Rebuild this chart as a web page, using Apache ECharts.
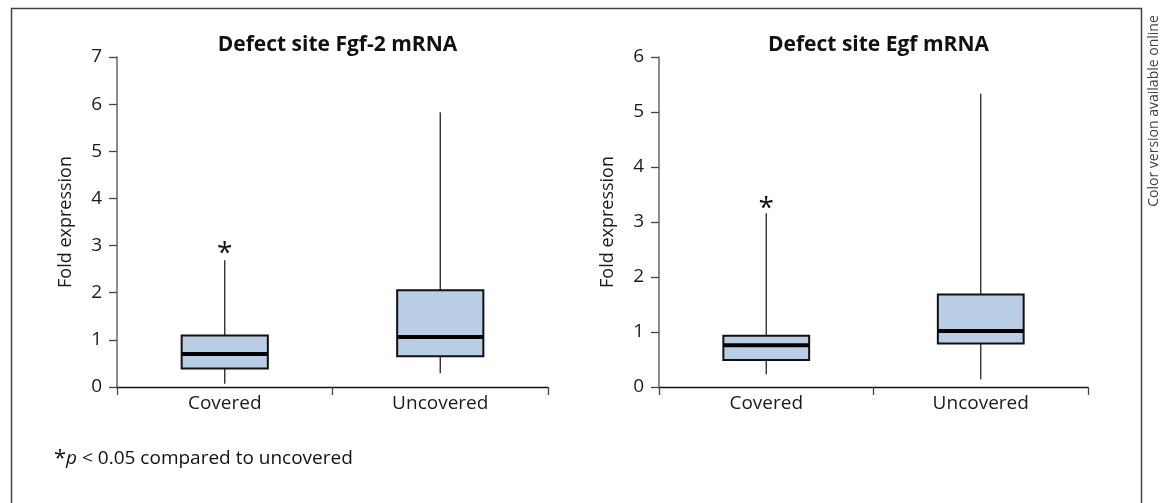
<!DOCTYPE html>
<html>
<head>
<meta charset="utf-8">
<script src="https://cdn.jsdelivr.net/npm/echarts@6/dist/echarts.min.js"></script>
<style>
html,body{margin:0;padding:0;background:#fff;}
#main{width:1168px;height:503px;}
</style>
</head>
<body>
<div id="main"></div>
<script>
// ---- Data ----
const categories = ['Covered', 'Uncovered'];

// Defect site Fgf-2 mRNA
const fgfMin    = [0.07, 0.29];
const fgfQ1     = [0.39, 0.65];
const fgfMedian = [0.70, 1.06];
const fgfQ3     = [1.09, 2.05];
const fgfMax    = [2.69, 5.83];
const fgfStar   = [2.99, null];

// Defect site Egf mRNA
const egfMin    = [0.23, 0.14];
const egfQ1     = [0.49, 0.79];
const egfMedian = [0.76, 1.02];
const egfQ3     = [0.93, 1.68];
const egfMax    = [3.16, 5.33];
const egfStar   = [3.39, null];

const fgfTicks = [0, 1, 2, 3, 4, 5, 6, 7];
const egfTicks = [0, 1, 2, 3, 4, 5, 6];

const FONT = '"Open Sans", "Noto Sans", sans-serif';
const BOX_FILL = '#b9cde5';

function buildRows(mn, q1, md, q3, mx) {
  return categories.map((c, i) => [i, mn[i], q1[i], md[i], q3[i], mx[i]]);
}
function buildStars(st) {
  const out = [];
  st.forEach((v, i) => { if (v != null) out.push([i, v]); });
  return out;
}

function renderBox(params, api) {
  const x = api.value(0);
  const pMin = api.coord([x, api.value(1)]);
  const pQ1 = api.coord([x, api.value(2)]);
  const pMed = api.coord([x, api.value(3)]);
  const pQ3 = api.coord([x, api.value(4)]);
  const pMax = api.coord([x, api.value(5)]);
  const bw = api.size([1, 0])[0] * 0.4;
  const cx = pMed[0];
  return {
    type: 'group',
    children: [
      { type: 'line', shape: { x1: cx, y1: pMin[1], x2: cx, y2: pQ1[1] },
        style: { stroke: '#222', lineWidth: 1.3 } },
      { type: 'line', shape: { x1: cx, y1: pQ3[1], x2: cx, y2: pMax[1] },
        style: { stroke: '#222', lineWidth: 1.3 } },
      { type: 'rect', shape: { x: cx - bw / 2, y: pQ3[1], width: bw, height: pQ1[1] - pQ3[1] },
        style: { fill: BOX_FILL, stroke: '#111', lineWidth: 2 } },
      { type: 'line', shape: { x1: cx - bw / 2, y1: pMed[1], x2: cx + bw / 2, y2: pMed[1] },
        style: { stroke: '#000', lineWidth: 4 } }
    ]
  };
}

function renderStar(params, api) {
  const p = api.coord([api.value(0), api.value(1)]);
  return {
    type: 'text',
    x: p[0], y: p[1] + 8,
    style: { text: '*', font: '28px ' + FONT, fill: '#111', align: 'center', verticalAlign: 'middle' }
  };
}

const grids = [
  { left: 117, width: 431, top: 57, height: 330 },
  { left: 659, width: 429, top: 57, height: 330 }
];

function xAxisCfg(gi) {
  return {
    type: 'category', gridIndex: gi, data: categories, boundaryGap: true,
    axisLine: { lineStyle: { color: '#111', width: 1.3 } },
    axisTick: { show: true, length: 8, inside: false, lineStyle: { color: '#444', width: 1.3 } },
    axisLabel: { color: '#1a1a1a', fontSize: 19, fontFamily: FONT, margin: 7 },
    splitLine: { show: false }
  };
}
function yAxisCfg(gi, ticks) {
  return {
    type: 'value', gridIndex: gi,
    min: ticks[0], max: ticks[ticks.length - 1], interval: 1,
    name: 'Fold expression', nameLocation: 'middle', nameGap: 42,
    nameTextStyle: { color: '#1a1a1a', fontSize: 18, fontFamily: FONT },
    axisLine: { show: true, lineStyle: { color: '#666', width: 1.5 } },
    axisTick: { show: true, length: 8, lineStyle: { color: '#444', width: 1.3 } },
    axisLabel: { color: '#1a1a1a', fontSize: 19, fontFamily: FONT, margin: 15 },
    splitLine: { show: false }
  };
}

const chart = echarts.init(document.getElementById('main'), null, { renderer: 'canvas' });
chart.setOption({
  animation: false,
  backgroundColor: '#fff',
  title: [
    { text: 'Defect site Fgf-2 mRNA', left: 332.5, top: 30, textAlign: 'center',
      textStyle: { fontSize: 21, fontWeight: 'bold', color: '#111', fontFamily: FONT } },
    { text: 'Defect site Egf mRNA', left: 873.5, top: 30, textAlign: 'center',
      textStyle: { fontSize: 21, fontWeight: 'bold', color: '#111', fontFamily: FONT } }
  ],
  grid: grids,
  xAxis: [xAxisCfg(0), xAxisCfg(1)],
  yAxis: [yAxisCfg(0, fgfTicks), yAxisCfg(1, egfTicks)],
  series: [
    { type: 'custom', xAxisIndex: 0, yAxisIndex: 0, renderItem: renderBox,
      data: buildRows(fgfMin, fgfQ1, fgfMedian, fgfQ3, fgfMax), z: 2 },
    { type: 'custom', xAxisIndex: 1, yAxisIndex: 1, renderItem: renderBox,
      data: buildRows(egfMin, egfQ1, egfMedian, egfQ3, egfMax), z: 2 },
    { type: 'custom', xAxisIndex: 0, yAxisIndex: 0, renderItem: renderStar,
      data: buildStars(fgfStar), z: 3 },
    { type: 'custom', xAxisIndex: 1, yAxisIndex: 1, renderItem: renderStar,
      data: buildStars(egfStar), z: 3 }
  ],
  graphic: [
    { type: 'rect', left: 9, top: 6, shape: { width: 1130, height: 520 },
      style: { fill: 'none', stroke: '#444', lineWidth: 1.5 }, silent: true, z: -1 },
    { type: 'text', left: 54, top: 448,
      style: {
        text: '{a|*}{b|p}{c| < 0.05 compared to uncovered}',
        rich: {
          a: { fontSize: 22, fontFamily: FONT, fill: '#111', verticalAlign: 'middle' },
          b: { fontSize: 19, fontStyle: 'italic', fontFamily: FONT, fill: '#111' },
          c: { fontSize: 19, fontFamily: FONT, fill: '#111' }
        }
      } },
    { type: 'text', x: 1154, y: 111, rotation: Math.PI / 2,
      style: { text: 'Color version available online', font: '14px ' + FONT, fill: '#444',
        align: 'center', verticalAlign: 'middle' } }
  ]
});
</script>
</body>
</html>
